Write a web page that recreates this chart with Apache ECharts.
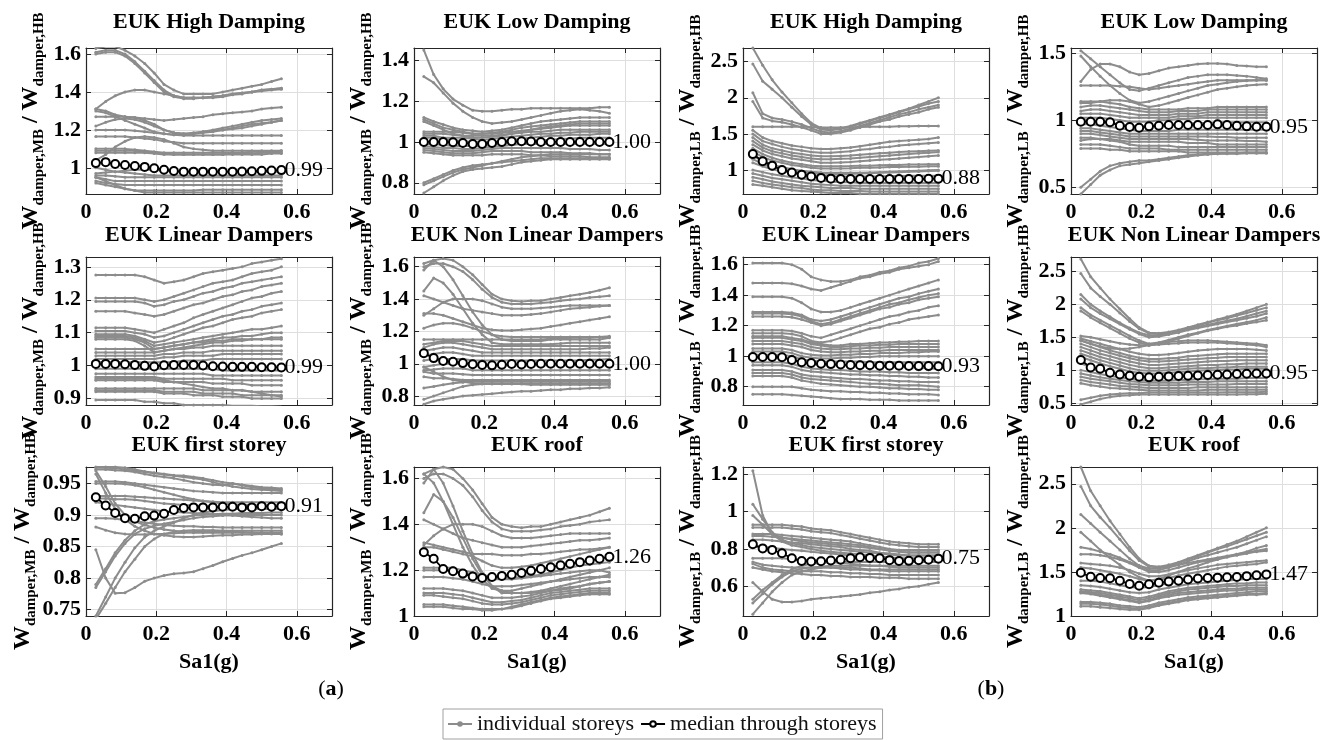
<!DOCTYPE html>
<html>
<head>
<meta charset="utf-8">
<script src="https://cdn.jsdelivr.net/npm/echarts@6/dist/echarts.min.js"></script>
<style>
html,body{margin:0;padding:0;background:#fff;}
#chart{width:1323px;height:740px;}
</style>
</head>
<body>
<div id="chart"></div>
<script>
// Spectral acceleration Sa1 (g) at which every storey ratio is evaluated
const sa = [0.028,0.056,0.083,0.111,0.139,0.167,0.194,0.222,0.25,0.278,0.306,0.333,0.361,0.389,0.417,0.444,0.472,0.5,0.528,0.556];

const titles = ['EUK High Damping','EUK Low Damping','EUK High Damping','EUK Low Damping',
  'EUK Linear Dampers','EUK Non Linear Dampers','EUK Linear Dampers','EUK Non Linear Dampers',
  'EUK first storey','EUK roof','EUK first storey','EUK roof'];

const xTicks = [0,0.2,0.4,0.6];
const ticksHighMB = [1,1.2,1.4,1.6];
const ticksLowMB = [0.8,1,1.2,1.4];
const ticksHighLB = [1,1.5,2,2.5];
const ticksLowLB = [0.5,1,1.5];
const ticksLinMB = [0.9,1,1.1,1.2,1.3];
const ticksNonLinMB = [0.8,1,1.2,1.4,1.6];
const ticksLinLB = [0.8,1,1.2,1.4,1.6];
const ticksNonLinLB = [0.5,1,1.5,2,2.5];
const ticksFirstMB = [0.75,0.8,0.85,0.9,0.95];
const ticksRoofMB = [1,1.2,1.4,1.6];
const ticksFirstLB = [0.6,0.8,1,1.2];
const ticksRoofLB = [1,1.5,2,2.5];

// ---------- High damping, MB / HB ----------
const medHighMB = [1.025,1.03,1.02,1.015,1.01,1.005,0.998,0.99,0.983,0.98,0.98,0.98,0.98,0.98,0.98,0.981,0.982,0.984,0.986,0.988];
const storeysHighMB = [
[1.63,1.64,1.64,1.62,1.59,1.55,1.50,1.44,1.41,1.39,1.39,1.39,1.39,1.40,1.41,1.42,1.43,1.44,1.455,1.47],
[1.61,1.62,1.62,1.60,1.56,1.51,1.46,1.41,1.38,1.37,1.37,1.37,1.375,1.38,1.39,1.395,1.40,1.41,1.415,1.42],
[1.60,1.61,1.61,1.59,1.55,1.50,1.45,1.40,1.375,1.365,1.365,1.37,1.37,1.375,1.385,1.39,1.40,1.405,1.41,1.415],
[1.31,1.35,1.38,1.40,1.41,1.41,1.40,1.39,1.38,1.37,1.37,1.37,1.375,1.38,1.39,1.395,1.40,1.41,1.415,1.42],
[1.31,1.30,1.28,1.27,1.265,1.26,1.255,1.25,1.255,1.26,1.265,1.27,1.28,1.285,1.29,1.295,1.30,1.31,1.315,1.32],
[1.27,1.27,1.27,1.27,1.265,1.25,1.23,1.20,1.185,1.18,1.185,1.19,1.20,1.21,1.22,1.23,1.24,1.25,1.255,1.26],
[1.30,1.29,1.27,1.25,1.23,1.21,1.19,1.18,1.175,1.175,1.18,1.19,1.195,1.20,1.21,1.22,1.23,1.235,1.24,1.25],
[1.22,1.24,1.255,1.26,1.255,1.24,1.22,1.20,1.185,1.18,1.18,1.185,1.19,1.20,1.205,1.21,1.22,1.23,1.24,1.25],
[1.20,1.20,1.20,1.20,1.195,1.19,1.185,1.18,1.175,1.17,1.17,1.17,1.17,1.17,1.17,1.17,1.17,1.17,1.17,1.17],
[1.165,1.165,1.165,1.165,1.16,1.155,1.15,1.14,1.135,1.13,1.13,1.13,1.13,1.13,1.13,1.13,1.13,1.13,1.13,1.13],
[1.04,1.07,1.11,1.14,1.16,1.165,1.16,1.15,1.13,1.11,1.10,1.095,1.09,1.09,1.09,1.09,1.09,1.09,1.09,1.09],
[1.10,1.10,1.10,1.10,1.095,1.09,1.085,1.08,1.08,1.08,1.08,1.08,1.08,1.08,1.08,1.08,1.085,1.085,1.085,1.09],
[1.09,1.09,1.09,1.09,1.09,1.085,1.08,1.075,1.07,1.07,1.07,1.07,1.07,1.07,1.075,1.075,1.075,1.08,1.08,1.08],
[1.08,1.08,1.08,1.08,1.08,1.08,1.075,1.07,1.07,1.07,1.07,1.07,1.07,1.07,1.07,1.07,1.07,1.07,1.075,1.075],
[0.97,0.975,0.98,0.985,0.99,0.99,0.99,0.985,0.98,0.98,0.98,0.98,0.98,0.98,0.98,0.98,0.98,0.98,0.98,0.98],
[0.96,0.96,0.955,0.95,0.95,0.95,0.95,0.95,0.95,0.95,0.95,0.95,0.95,0.95,0.95,0.95,0.95,0.95,0.95,0.95],
[0.95,0.94,0.93,0.93,0.93,0.93,0.93,0.93,0.93,0.93,0.93,0.93,0.93,0.93,0.93,0.93,0.93,0.93,0.93,0.93],
[0.93,0.92,0.915,0.91,0.91,0.91,0.91,0.91,0.91,0.91,0.91,0.91,0.91,0.91,0.91,0.91,0.91,0.91,0.91,0.91],
[0.92,0.91,0.90,0.89,0.88,0.88,0.88,0.88,0.88,0.88,0.88,0.885,0.885,0.885,0.885,0.885,0.885,0.885,0.885,0.885],
[0.95,0.93,0.91,0.89,0.88,0.87,0.87,0.87,0.87,0.87,0.87,0.87,0.87,0.87,0.87,0.87,0.87,0.87,0.87,0.87],
[1.0,0.99,0.98,0.975,0.97,0.965,0.96,0.96,0.96,0.96,0.96,0.96,0.96,0.96,0.96,0.96,0.96,0.96,0.96,0.96]
];

// ---------- Low damping, MB / HB ----------
const medLowMB = [1.0,1.0,1.0,0.998,0.995,0.99,0.99,0.995,1.0,1.003,1.003,1.002,1.0,1.0,1.0,1.0,1.0,1.0,1.0,1.0];
const storeysLowMB = [
[1.45,1.33,1.26,1.21,1.18,1.155,1.15,1.15,1.155,1.16,1.16,1.165,1.165,1.165,1.165,1.165,1.165,1.165,1.17,1.17],
[1.32,1.29,1.24,1.19,1.15,1.12,1.10,1.09,1.095,1.10,1.11,1.12,1.13,1.14,1.15,1.155,1.16,1.155,1.15,1.14],
[1.12,1.10,1.085,1.07,1.06,1.055,1.05,1.055,1.06,1.07,1.08,1.09,1.10,1.105,1.11,1.115,1.12,1.12,1.12,1.12],
[1.11,1.09,1.07,1.06,1.05,1.04,1.04,1.045,1.05,1.06,1.07,1.075,1.08,1.085,1.09,1.095,1.10,1.10,1.10,1.10],
[1.05,1.05,1.05,1.05,1.045,1.04,1.04,1.04,1.045,1.05,1.055,1.06,1.065,1.07,1.075,1.08,1.08,1.08,1.08,1.08],
[1.04,1.04,1.04,1.035,1.03,1.03,1.03,1.03,1.035,1.04,1.045,1.05,1.05,1.055,1.06,1.06,1.06,1.06,1.06,1.06],
[1.03,1.03,1.02,1.02,1.02,1.015,1.01,1.015,1.02,1.025,1.03,1.035,1.04,1.04,1.045,1.045,1.05,1.05,1.05,1.05],
[1.02,1.02,1.015,1.01,1.005,1.0,1.0,1.0,1.005,1.01,1.015,1.02,1.025,1.03,1.03,1.035,1.035,1.035,1.04,1.04],
[0.99,0.99,0.985,0.98,0.98,0.98,0.98,0.985,0.99,0.995,1.0,1.005,1.01,1.01,1.015,1.015,1.02,1.02,1.02,1.02],
[0.98,0.975,0.97,0.97,0.965,0.965,0.97,0.975,0.98,0.985,0.99,0.99,0.99,0.99,0.99,0.99,0.99,0.99,0.99,0.99],
[0.97,0.965,0.96,0.955,0.955,0.955,0.96,0.965,0.97,0.97,0.97,0.97,0.97,0.97,0.97,0.965,0.965,0.965,0.96,0.96],
[0.96,0.955,0.95,0.945,0.945,0.945,0.95,0.955,0.955,0.955,0.955,0.95,0.95,0.95,0.95,0.945,0.945,0.945,0.94,0.94],
[0.95,0.945,0.94,0.935,0.935,0.935,0.935,0.94,0.94,0.94,0.94,0.935,0.935,0.93,0.93,0.93,0.93,0.925,0.925,0.925],
[0.80,0.82,0.84,0.86,0.875,0.885,0.89,0.895,0.90,0.905,0.91,0.915,0.92,0.92,0.92,0.92,0.92,0.92,0.92,0.92],
[0.75,0.78,0.81,0.835,0.855,0.865,0.87,0.875,0.88,0.89,0.90,0.905,0.91,0.915,0.915,0.915,0.915,0.915,0.915,0.915],
[0.79,0.81,0.83,0.85,0.865,0.875,0.885,0.895,0.905,0.915,0.925,0.93,0.935,0.94,0.94,0.94,0.94,0.94,0.94,0.94],
[1.10,1.08,1.06,1.04,1.03,1.02,1.02,1.025,1.03,1.04,1.05,1.06,1.07,1.075,1.08,1.085,1.09,1.09,1.09,1.09]
];

// ---------- High damping, LB / HB ----------
const medHighLB = [1.22,1.12,1.06,1.0,0.965,0.935,0.91,0.89,0.88,0.875,0.875,0.875,0.875,0.875,0.875,0.875,0.875,0.875,0.878,0.88];
const storeysHighLB = [
[2.69,2.45,2.25,2.08,1.93,1.78,1.65,1.58,1.56,1.58,1.61,1.65,1.69,1.73,1.77,1.81,1.85,1.90,1.95,2.0],
[2.47,2.23,2.12,2.0,1.87,1.74,1.63,1.56,1.55,1.57,1.60,1.64,1.68,1.72,1.76,1.80,1.84,1.88,1.92,1.95],
[2.07,1.78,1.72,1.70,1.67,1.63,1.58,1.53,1.52,1.54,1.57,1.61,1.65,1.69,1.73,1.77,1.80,1.84,1.87,1.90],
[1.95,1.72,1.68,1.66,1.63,1.59,1.55,1.50,1.50,1.52,1.55,1.59,1.63,1.67,1.70,1.74,1.77,1.80,1.84,1.87],
[1.60,1.60,1.60,1.60,1.60,1.60,1.595,1.59,1.59,1.59,1.59,1.595,1.60,1.60,1.60,1.605,1.605,1.61,1.61,1.61],
[1.55,1.45,1.40,1.37,1.34,1.32,1.30,1.29,1.29,1.30,1.31,1.33,1.35,1.37,1.39,1.40,1.41,1.42,1.43,1.45],
[1.50,1.40,1.36,1.32,1.29,1.27,1.25,1.24,1.24,1.25,1.26,1.28,1.29,1.31,1.32,1.34,1.35,1.36,1.37,1.38],
[1.45,1.35,1.30,1.27,1.24,1.22,1.20,1.19,1.19,1.195,1.20,1.21,1.22,1.23,1.24,1.25,1.255,1.26,1.265,1.27],
[1.40,1.31,1.26,1.23,1.20,1.18,1.16,1.15,1.15,1.155,1.16,1.17,1.18,1.19,1.20,1.21,1.22,1.23,1.24,1.25],
[1.35,1.27,1.22,1.19,1.16,1.14,1.12,1.10,1.10,1.105,1.11,1.12,1.13,1.14,1.15,1.16,1.17,1.18,1.19,1.20],
[1.30,1.22,1.17,1.13,1.10,1.08,1.06,1.05,1.05,1.05,1.055,1.06,1.06,1.065,1.07,1.07,1.075,1.075,1.08,1.08],
[1.25,1.18,1.13,1.10,1.07,1.05,1.03,1.02,1.02,1.02,1.025,1.03,1.03,1.035,1.04,1.04,1.045,1.045,1.05,1.05],
[1.20,1.12,1.07,1.04,1.01,0.99,0.975,0.965,0.96,0.96,0.96,0.96,0.965,0.97,0.975,0.98,0.985,0.99,0.995,1.0],
[1.15,1.08,1.04,1.01,0.99,0.97,0.96,0.95,0.945,0.945,0.945,0.95,0.955,0.96,0.965,0.97,0.975,0.98,0.985,0.99],
[1.10,1.05,1.01,0.98,0.96,0.94,0.93,0.92,0.915,0.91,0.91,0.91,0.91,0.91,0.915,0.915,0.92,0.92,0.92,0.92],
[1.0,0.97,0.94,0.92,0.90,0.88,0.86,0.85,0.84,0.83,0.83,0.82,0.82,0.82,0.82,0.82,0.82,0.82,0.82,0.82],
[0.95,0.92,0.89,0.87,0.85,0.83,0.81,0.80,0.79,0.78,0.78,0.78,0.78,0.78,0.78,0.78,0.78,0.78,0.78,0.78],
[0.90,0.87,0.84,0.82,0.80,0.78,0.77,0.76,0.75,0.75,0.75,0.74,0.74,0.74,0.74,0.74,0.74,0.74,0.74,0.74],
[0.85,0.82,0.80,0.78,0.76,0.75,0.73,0.72,0.72,0.71,0.71,0.71,0.70,0.70,0.70,0.70,0.70,0.70,0.70,0.70],
[0.80,0.78,0.76,0.74,0.72,0.71,0.70,0.69,0.68,0.68,0.68,0.67,0.67,0.67,0.67,0.67,0.67,0.67,0.67,0.67]
];

// ---------- Low damping, LB / HB ----------
const medLowLB = [0.99,0.99,0.99,0.985,0.96,0.95,0.945,0.955,0.96,0.965,0.965,0.965,0.965,0.965,0.97,0.965,0.96,0.955,0.952,0.952];
const storeysLowLB = [
[1.52,1.46,1.40,1.34,1.28,1.23,1.22,1.24,1.26,1.28,1.30,1.32,1.33,1.34,1.34,1.34,1.335,1.33,1.32,1.31],
[1.29,1.38,1.42,1.42,1.40,1.36,1.34,1.35,1.37,1.39,1.40,1.41,1.42,1.425,1.425,1.42,1.41,1.405,1.40,1.40],
[1.48,1.40,1.33,1.26,1.20,1.15,1.13,1.14,1.16,1.18,1.20,1.22,1.24,1.26,1.27,1.28,1.29,1.295,1.30,1.30],
[1.26,1.26,1.26,1.26,1.255,1.25,1.24,1.23,1.24,1.25,1.26,1.27,1.28,1.29,1.30,1.30,1.30,1.30,1.30,1.30],
[1.13,1.13,1.14,1.15,1.15,1.14,1.12,1.10,1.11,1.13,1.15,1.17,1.19,1.21,1.23,1.24,1.25,1.26,1.265,1.27],
[1.14,1.14,1.14,1.13,1.12,1.10,1.09,1.08,1.08,1.08,1.08,1.09,1.09,1.09,1.10,1.10,1.10,1.10,1.10,1.10],
[1.10,1.11,1.11,1.10,1.09,1.08,1.07,1.06,1.06,1.06,1.07,1.07,1.07,1.08,1.08,1.08,1.08,1.08,1.08,1.08],
[1.07,1.08,1.08,1.07,1.06,1.05,1.04,1.04,1.04,1.04,1.05,1.05,1.05,1.06,1.06,1.06,1.06,1.06,1.06,1.06],
[1.05,1.05,1.05,1.04,1.03,1.02,1.02,1.02,1.02,1.02,1.03,1.03,1.03,1.04,1.04,1.04,1.04,1.04,1.04,1.04],
[1.02,1.02,1.02,1.01,1.0,0.99,0.99,0.99,1.0,1.0,1.01,1.01,1.02,1.02,1.02,1.02,1.02,1.02,1.02,1.02],
[0.97,0.97,0.96,0.95,0.94,0.93,0.92,0.92,0.92,0.92,0.93,0.93,0.93,0.93,0.93,0.93,0.93,0.93,0.93,0.93],
[0.94,0.94,0.93,0.92,0.91,0.90,0.90,0.90,0.90,0.90,0.90,0.90,0.90,0.90,0.90,0.90,0.90,0.90,0.90,0.90],
[0.92,0.92,0.91,0.90,0.89,0.88,0.88,0.88,0.88,0.88,0.88,0.88,0.88,0.88,0.875,0.875,0.87,0.87,0.87,0.87],
[0.90,0.90,0.89,0.88,0.87,0.86,0.86,0.86,0.86,0.86,0.86,0.86,0.855,0.85,0.85,0.85,0.85,0.845,0.845,0.84],
[0.87,0.87,0.86,0.86,0.85,0.84,0.84,0.84,0.84,0.84,0.84,0.83,0.83,0.83,0.82,0.82,0.82,0.82,0.82,0.82],
[0.85,0.86,0.86,0.85,0.84,0.82,0.81,0.81,0.81,0.81,0.80,0.80,0.80,0.80,0.80,0.80,0.80,0.80,0.80,0.80],
[0.82,0.82,0.82,0.81,0.80,0.79,0.79,0.79,0.79,0.78,0.78,0.78,0.78,0.78,0.78,0.78,0.78,0.78,0.78,0.78],
[0.79,0.79,0.79,0.78,0.78,0.77,0.77,0.77,0.77,0.77,0.77,0.76,0.76,0.76,0.76,0.76,0.76,0.76,0.76,0.76],
[0.50,0.56,0.62,0.66,0.68,0.69,0.70,0.70,0.71,0.72,0.73,0.74,0.745,0.75,0.75,0.755,0.755,0.76,0.76,0.76],
[0.45,0.52,0.59,0.63,0.66,0.67,0.68,0.69,0.70,0.71,0.72,0.73,0.74,0.745,0.75,0.75,0.75,0.755,0.755,0.755],
[1.0,1.0,0.99,0.98,0.97,0.96,0.955,0.955,0.96,0.965,0.97,0.975,0.98,0.98,0.985,0.985,0.985,0.985,0.985,0.985]
];

// ---------- Linear dampers, MB / HB ----------
const medLinMB = [1.005,1.005,1.005,1.004,1.002,0.999,0.997,1.001,1.002,1.002,1.002,1.0,0.998,0.997,0.996,0.996,0.996,0.995,0.995,0.994];
const storeysLinMB = [
[1.275,1.275,1.275,1.275,1.275,1.27,1.26,1.25,1.255,1.26,1.27,1.28,1.285,1.29,1.295,1.30,1.31,1.315,1.32,1.325],
[1.205,1.205,1.205,1.205,1.205,1.20,1.195,1.20,1.21,1.22,1.23,1.24,1.25,1.255,1.26,1.27,1.28,1.285,1.29,1.30],
[1.195,1.195,1.195,1.195,1.195,1.19,1.18,1.185,1.195,1.20,1.21,1.22,1.225,1.235,1.24,1.25,1.255,1.26,1.265,1.27],
[1.165,1.165,1.165,1.165,1.16,1.155,1.15,1.155,1.165,1.175,1.185,1.19,1.20,1.21,1.215,1.225,1.23,1.24,1.245,1.25],
[1.115,1.115,1.115,1.115,1.11,1.105,1.10,1.11,1.12,1.13,1.145,1.155,1.165,1.175,1.185,1.195,1.205,1.21,1.22,1.225],
[1.105,1.105,1.105,1.105,1.10,1.095,1.085,1.09,1.10,1.11,1.12,1.13,1.14,1.15,1.155,1.165,1.17,1.18,1.185,1.19],
[1.095,1.095,1.095,1.095,1.09,1.08,1.07,1.075,1.085,1.095,1.105,1.115,1.12,1.13,1.14,1.145,1.15,1.16,1.165,1.17],
[1.09,1.09,1.09,1.09,1.085,1.075,1.06,1.065,1.07,1.075,1.08,1.085,1.09,1.095,1.10,1.105,1.11,1.11,1.115,1.12],
[1.085,1.085,1.085,1.085,1.08,1.07,1.05,1.055,1.06,1.065,1.07,1.075,1.08,1.085,1.085,1.09,1.09,1.095,1.10,1.10],
[1.08,1.08,1.08,1.08,1.075,1.06,1.04,1.045,1.05,1.055,1.06,1.065,1.07,1.07,1.075,1.075,1.08,1.08,1.085,1.085],
[1.05,1.05,1.05,1.05,1.05,1.05,1.05,1.055,1.06,1.065,1.07,1.07,1.075,1.075,1.08,1.08,1.08,1.08,1.08,1.08],
[1.04,1.04,1.04,1.04,1.04,1.04,1.04,1.045,1.05,1.05,1.055,1.055,1.06,1.06,1.06,1.06,1.06,1.06,1.06,1.06],
[1.03,1.03,1.03,1.03,1.03,1.03,1.03,1.035,1.035,1.04,1.04,1.04,1.045,1.045,1.045,1.045,1.045,1.045,1.045,1.045],
[1.02,1.02,1.02,1.02,1.02,1.02,1.02,1.025,1.025,1.03,1.03,1.03,1.03,1.035,1.035,1.035,1.035,1.035,1.035,1.035],
[0.99,0.99,0.99,0.99,0.99,0.99,0.99,0.99,0.99,0.99,0.99,0.99,0.99,0.985,0.985,0.985,0.985,0.985,0.985,0.985],
[0.975,0.975,0.975,0.975,0.975,0.975,0.975,0.975,0.975,0.975,0.975,0.975,0.97,0.97,0.97,0.97,0.97,0.97,0.97,0.97],
[0.965,0.965,0.965,0.965,0.965,0.965,0.965,0.96,0.96,0.96,0.96,0.96,0.96,0.96,0.955,0.955,0.955,0.955,0.955,0.955],
[0.955,0.955,0.955,0.955,0.955,0.955,0.955,0.95,0.95,0.95,0.95,0.95,0.945,0.945,0.945,0.945,0.94,0.94,0.94,0.94],
[0.93,0.93,0.93,0.93,0.93,0.93,0.93,0.93,0.93,0.93,0.93,0.925,0.925,0.925,0.925,0.925,0.92,0.92,0.92,0.92],
[0.925,0.925,0.925,0.925,0.925,0.925,0.925,0.92,0.92,0.92,0.92,0.915,0.915,0.915,0.915,0.91,0.91,0.91,0.91,0.91],
[0.92,0.92,0.92,0.92,0.92,0.92,0.92,0.915,0.915,0.915,0.91,0.91,0.91,0.905,0.905,0.905,0.90,0.90,0.90,0.90],
[0.895,0.895,0.895,0.895,0.895,0.89,0.89,0.885,0.885,0.88,0.88,0.88,0.88,0.88,0.878,0.878,0.878,0.876,0.876,0.875],
[0.96,0.96,0.96,0.96,0.96,0.96,0.96,0.955,0.95,0.945,0.94,0.935,0.93,0.93,0.925,0.925,0.92,0.915,0.91,0.905],
[1.01,1.01,1.01,1.01,1.01,1.01,1.01,1.01,1.01,1.015,1.015,1.015,1.02,1.02,1.02,1.02,1.02,1.02,1.02,1.02]
];

// ---------- Non linear dampers, MB / HB ----------
const medNonLinMB = [1.065,1.035,1.017,1.012,1.004,0.997,0.993,0.99,0.994,0.998,0.996,0.999,1.0,1.0,1.0,1.0,1.0,1.0,1.0,1.0];
const storeysNonLinMB = [
[1.62,1.64,1.65,1.64,1.60,1.55,1.49,1.43,1.40,1.39,1.385,1.39,1.39,1.40,1.41,1.42,1.43,1.44,1.455,1.47],
[1.60,1.62,1.62,1.60,1.57,1.52,1.46,1.41,1.38,1.37,1.37,1.37,1.375,1.38,1.39,1.395,1.40,1.41,1.415,1.42],
[1.45,1.53,1.50,1.43,1.34,1.25,1.18,1.13,1.12,1.12,1.12,1.12,1.12,1.12,1.125,1.13,1.13,1.13,1.13,1.13],
[1.58,1.64,1.60,1.52,1.42,1.32,1.24,1.18,1.15,1.14,1.14,1.14,1.14,1.15,1.15,1.15,1.15,1.15,1.15,1.16],
[1.30,1.34,1.38,1.40,1.40,1.40,1.39,1.37,1.35,1.34,1.34,1.34,1.345,1.35,1.355,1.36,1.36,1.36,1.36,1.36],
[1.31,1.31,1.30,1.28,1.26,1.24,1.22,1.21,1.205,1.205,1.21,1.215,1.22,1.23,1.24,1.25,1.26,1.27,1.28,1.29],
[1.42,1.40,1.38,1.36,1.34,1.33,1.32,1.31,1.30,1.30,1.30,1.305,1.31,1.32,1.33,1.34,1.345,1.35,1.355,1.36],
[1.22,1.24,1.25,1.25,1.24,1.22,1.20,1.18,1.17,1.165,1.165,1.165,1.165,1.165,1.165,1.165,1.165,1.165,1.165,1.17],
[1.12,1.13,1.14,1.14,1.14,1.13,1.12,1.11,1.11,1.11,1.11,1.11,1.11,1.11,1.11,1.11,1.11,1.11,1.11,1.11],
[1.10,1.12,1.13,1.13,1.12,1.11,1.10,1.09,1.09,1.09,1.09,1.09,1.09,1.09,1.09,1.09,1.09,1.095,1.095,1.10],
[1.08,1.09,1.10,1.10,1.09,1.08,1.07,1.07,1.07,1.07,1.07,1.07,1.07,1.07,1.07,1.07,1.07,1.07,1.07,1.07],
[1.05,1.06,1.07,1.07,1.06,1.05,1.05,1.05,1.05,1.05,1.05,1.05,1.05,1.05,1.05,1.05,1.05,1.05,1.05,1.05],
[1.02,1.03,1.03,1.03,1.03,1.02,1.02,1.02,1.02,1.02,1.02,1.02,1.02,1.02,1.02,1.02,1.02,1.025,1.025,1.03],
[0.98,0.99,1.0,1.0,1.0,0.99,0.99,0.99,0.99,0.99,0.99,0.99,0.99,0.99,0.99,0.99,0.99,0.99,0.99,0.99],
[0.96,0.965,0.97,0.97,0.97,0.96,0.96,0.96,0.96,0.96,0.96,0.96,0.96,0.96,0.96,0.96,0.96,0.96,0.96,0.96],
[0.95,0.94,0.94,0.94,0.935,0.93,0.93,0.93,0.93,0.93,0.93,0.93,0.93,0.93,0.93,0.93,0.93,0.93,0.93,0.93],
[0.92,0.91,0.91,0.905,0.90,0.90,0.90,0.90,0.90,0.90,0.90,0.90,0.90,0.90,0.90,0.90,0.90,0.90,0.90,0.90],
[0.98,0.95,0.92,0.90,0.89,0.88,0.88,0.88,0.88,0.88,0.88,0.88,0.88,0.88,0.88,0.88,0.88,0.88,0.88,0.88],
[0.78,0.80,0.82,0.84,0.86,0.87,0.875,0.875,0.875,0.875,0.875,0.87,0.87,0.87,0.87,0.87,0.87,0.87,0.87,0.87],
[0.75,0.77,0.78,0.79,0.80,0.805,0.81,0.815,0.82,0.825,0.83,0.83,0.835,0.84,0.84,0.845,0.845,0.85,0.85,0.855],
[0.85,0.86,0.87,0.88,0.885,0.89,0.89,0.89,0.89,0.89,0.89,0.89,0.89,0.89,0.89,0.89,0.89,0.89,0.89,0.89],
[1.15,1.15,1.15,1.15,1.15,1.15,1.15,1.15,1.15,1.15,1.15,1.15,1.15,1.155,1.155,1.16,1.16,1.16,1.165,1.165]
];

// ---------- Linear dampers, LB / HB ----------
const medLinLB = [0.995,0.995,0.995,0.993,0.975,0.96,0.955,0.95,0.948,0.945,0.942,0.94,0.94,0.938,0.938,0.937,0.936,0.935,0.935,0.934];
const storeysLinLB = [
[1.61,1.61,1.61,1.61,1.60,1.57,1.52,1.50,1.49,1.49,1.50,1.52,1.53,1.55,1.56,1.58,1.59,1.61,1.62,1.64],
[1.48,1.48,1.48,1.48,1.475,1.46,1.44,1.43,1.45,1.47,1.49,1.51,1.52,1.54,1.55,1.57,1.58,1.59,1.60,1.62],
[1.39,1.39,1.39,1.39,1.38,1.35,1.31,1.29,1.29,1.30,1.32,1.34,1.36,1.38,1.40,1.42,1.44,1.46,1.48,1.50],
[1.29,1.29,1.29,1.29,1.285,1.27,1.24,1.23,1.24,1.26,1.28,1.30,1.32,1.34,1.36,1.38,1.39,1.41,1.425,1.44],
[1.28,1.28,1.28,1.28,1.275,1.26,1.23,1.21,1.22,1.24,1.26,1.28,1.30,1.32,1.34,1.35,1.37,1.385,1.40,1.41],
[1.26,1.26,1.26,1.26,1.255,1.24,1.22,1.20,1.21,1.23,1.25,1.27,1.29,1.31,1.32,1.34,1.35,1.37,1.38,1.39],
[1.17,1.17,1.17,1.17,1.165,1.15,1.13,1.12,1.14,1.16,1.18,1.20,1.22,1.24,1.26,1.27,1.29,1.30,1.32,1.33],
[1.15,1.15,1.15,1.15,1.145,1.13,1.10,1.09,1.10,1.12,1.14,1.16,1.18,1.19,1.21,1.22,1.24,1.25,1.26,1.27],
[1.13,1.13,1.13,1.13,1.12,1.11,1.09,1.08,1.07,1.07,1.08,1.08,1.085,1.09,1.09,1.095,1.095,1.10,1.10,1.10],
[1.12,1.12,1.12,1.12,1.11,1.10,1.08,1.07,1.06,1.06,1.065,1.07,1.07,1.075,1.075,1.08,1.08,1.08,1.08,1.08],
[1.10,1.10,1.10,1.10,1.09,1.08,1.06,1.05,1.045,1.045,1.05,1.05,1.055,1.055,1.06,1.06,1.06,1.06,1.06,1.06],
[1.08,1.08,1.08,1.08,1.07,1.06,1.04,1.03,1.025,1.025,1.03,1.03,1.035,1.035,1.04,1.04,1.04,1.04,1.04,1.04],
[1.05,1.05,1.05,1.05,1.04,1.02,1.01,1.005,1.005,1.01,1.01,1.015,1.015,1.02,1.02,1.02,1.025,1.025,1.03,1.03],
[1.03,1.03,1.03,1.03,1.02,1.0,0.99,0.985,0.985,0.99,0.99,0.995,0.995,1.0,1.0,1.0,1.0,1.0,1.0,1.0],
[0.99,0.99,0.99,0.99,0.98,0.96,0.95,0.94,0.94,0.94,0.94,0.935,0.935,0.93,0.93,0.93,0.925,0.925,0.92,0.92],
[0.96,0.96,0.96,0.96,0.95,0.93,0.92,0.915,0.91,0.91,0.905,0.90,0.90,0.90,0.895,0.895,0.89,0.89,0.89,0.89],
[0.94,0.94,0.94,0.94,0.93,0.91,0.90,0.895,0.89,0.885,0.88,0.88,0.875,0.875,0.87,0.87,0.865,0.865,0.86,0.86],
[0.91,0.91,0.91,0.91,0.90,0.88,0.87,0.865,0.86,0.855,0.85,0.85,0.845,0.84,0.84,0.835,0.835,0.83,0.83,0.83],
[0.89,0.89,0.89,0.89,0.88,0.86,0.85,0.845,0.84,0.835,0.83,0.825,0.82,0.82,0.815,0.81,0.81,0.81,0.805,0.80],
[0.87,0.87,0.87,0.87,0.86,0.84,0.83,0.82,0.815,0.81,0.805,0.80,0.80,0.795,0.79,0.79,0.785,0.785,0.78,0.78],
[0.80,0.80,0.80,0.80,0.80,0.79,0.78,0.775,0.77,0.77,0.765,0.765,0.76,0.76,0.755,0.755,0.75,0.75,0.75,0.745],
[0.75,0.75,0.75,0.75,0.745,0.74,0.735,0.73,0.725,0.72,0.72,0.72,0.715,0.715,0.715,0.71,0.71,0.71,0.71,0.71],
[1.01,1.01,1.01,1.01,1.0,0.98,0.97,0.965,0.965,0.965,0.965,0.965,0.96,0.96,0.96,0.96,0.96,0.96,0.96,0.96]
];

// ---------- Non linear dampers, LB / HB ----------
const medNonLinLB = [1.155,1.04,1.02,0.96,0.935,0.915,0.9,0.89,0.9,0.905,0.91,0.915,0.92,0.925,0.93,0.935,0.94,0.945,0.948,0.95];
const storeysNonLinLB = [
[2.69,2.42,2.25,2.08,1.93,1.78,1.65,1.57,1.56,1.58,1.61,1.65,1.69,1.73,1.77,1.81,1.85,1.90,1.95,2.0],
[2.47,2.25,2.12,2.0,1.87,1.74,1.63,1.56,1.55,1.57,1.60,1.64,1.68,1.72,1.76,1.79,1.83,1.87,1.91,1.95],
[2.15,2.0,1.90,1.81,1.72,1.64,1.57,1.53,1.53,1.56,1.59,1.62,1.66,1.69,1.72,1.75,1.78,1.82,1.86,1.90],
[2.08,1.95,1.86,1.78,1.70,1.62,1.55,1.50,1.51,1.54,1.57,1.61,1.64,1.67,1.70,1.73,1.76,1.79,1.82,1.86],
[1.95,1.84,1.76,1.68,1.60,1.52,1.45,1.40,1.42,1.46,1.50,1.54,1.57,1.61,1.64,1.67,1.70,1.73,1.76,1.80],
[1.90,1.80,1.72,1.64,1.56,1.48,1.42,1.38,1.40,1.44,1.48,1.52,1.56,1.60,1.63,1.66,1.68,1.71,1.73,1.76],
[1.45,1.40,1.36,1.33,1.32,1.33,1.35,1.38,1.41,1.43,1.44,1.45,1.45,1.45,1.44,1.43,1.42,1.41,1.40,1.38],
[1.52,1.50,1.47,1.44,1.41,1.39,1.38,1.38,1.39,1.40,1.41,1.42,1.42,1.42,1.42,1.41,1.40,1.39,1.38,1.35],
[1.48,1.44,1.40,1.36,1.32,1.28,1.25,1.23,1.23,1.24,1.26,1.28,1.30,1.31,1.32,1.32,1.32,1.32,1.31,1.30],
[1.45,1.40,1.35,1.30,1.26,1.22,1.19,1.17,1.17,1.18,1.19,1.21,1.22,1.23,1.24,1.25,1.25,1.25,1.25,1.25],
[1.40,1.35,1.30,1.26,1.22,1.18,1.15,1.13,1.13,1.14,1.15,1.16,1.17,1.18,1.19,1.20,1.20,1.20,1.20,1.20],
[1.35,1.30,1.25,1.21,1.17,1.13,1.10,1.08,1.08,1.09,1.10,1.11,1.12,1.13,1.14,1.14,1.15,1.15,1.15,1.15],
[1.30,1.25,1.20,1.16,1.12,1.08,1.05,1.03,1.03,1.04,1.05,1.06,1.07,1.08,1.08,1.09,1.09,1.10,1.10,1.10],
[1.25,1.20,1.15,1.11,1.07,1.03,1.00,0.99,0.99,1.0,1.01,1.02,1.03,1.03,1.04,1.04,1.05,1.05,1.05,1.05],
[1.10,1.05,1.01,0.98,0.95,0.92,0.90,0.89,0.89,0.90,0.91,0.92,0.92,0.93,0.93,0.94,0.94,0.95,0.95,0.95],
[1.0,0.97,0.94,0.91,0.89,0.87,0.85,0.84,0.84,0.84,0.85,0.85,0.86,0.86,0.87,0.87,0.87,0.88,0.88,0.88],
[0.95,0.92,0.89,0.87,0.85,0.83,0.82,0.81,0.81,0.81,0.81,0.82,0.82,0.82,0.83,0.83,0.83,0.83,0.83,0.83],
[0.90,0.87,0.85,0.83,0.81,0.79,0.78,0.77,0.77,0.77,0.77,0.78,0.78,0.78,0.78,0.78,0.79,0.79,0.79,0.79],
[0.85,0.82,0.80,0.78,0.76,0.75,0.74,0.73,0.73,0.73,0.73,0.73,0.74,0.74,0.74,0.74,0.74,0.74,0.74,0.74],
[0.80,0.77,0.75,0.73,0.72,0.71,0.70,0.69,0.69,0.69,0.69,0.69,0.69,0.70,0.70,0.70,0.70,0.70,0.70,0.70],
[0.55,0.58,0.61,0.63,0.64,0.65,0.65,0.66,0.66,0.66,0.66,0.66,0.66,0.66,0.66,0.665,0.665,0.665,0.665,0.67],
[0.48,0.52,0.56,0.59,0.61,0.62,0.63,0.63,0.63,0.63,0.63,0.63,0.63,0.63,0.63,0.63,0.63,0.635,0.635,0.64],
[1.20,1.15,1.10,1.06,1.02,0.98,0.96,0.95,0.95,0.96,0.97,0.98,0.99,1.0,1.0,1.01,1.01,1.02,1.02,1.02]
];

// ---------- First storey, MB / HB ----------
const medFirstMB = [0.928,0.915,0.903,0.895,0.894,0.898,0.899,0.902,0.908,0.911,0.912,0.912,0.912,0.913,0.913,0.912,0.912,0.914,0.913,0.914];
const storeysFirstMB = [
[0.976,0.976,0.976,0.975,0.972,0.969,0.967,0.965,0.963,0.962,0.96,0.958,0.955,0.952,0.95,0.948,0.946,0.944,0.943,0.942],
[0.972,0.972,0.971,0.97,0.968,0.965,0.962,0.96,0.958,0.955,0.952,0.95,0.948,0.947,0.95,0.947,0.944,0.942,0.941,0.94],
[0.953,0.953,0.953,0.952,0.95,0.948,0.946,0.944,0.942,0.94,0.938,0.937,0.936,0.935,0.935,0.935,0.935,0.935,0.935,0.935],
[0.95,0.95,0.95,0.949,0.947,0.944,0.94,0.936,0.932,0.928,0.925,0.922,0.92,0.918,0.917,0.916,0.916,0.915,0.915,0.915],
[0.93,0.93,0.93,0.93,0.929,0.928,0.927,0.926,0.925,0.924,0.923,0.922,0.921,0.92,0.92,0.92,0.92,0.92,0.92,0.92],
[0.926,0.926,0.925,0.925,0.924,0.922,0.92,0.918,0.917,0.916,0.915,0.914,0.913,0.912,0.912,0.911,0.911,0.91,0.91,0.91],
[0.92,0.918,0.916,0.914,0.912,0.91,0.908,0.906,0.905,0.904,0.903,0.902,0.901,0.9,0.899,0.898,0.897,0.896,0.895,0.895],
[0.895,0.895,0.894,0.892,0.89,0.888,0.886,0.884,0.883,0.882,0.882,0.881,0.881,0.88,0.88,0.88,0.88,0.88,0.88,0.88],
[0.881,0.876,0.872,0.87,0.869,0.869,0.87,0.87,0.871,0.872,0.873,0.874,0.874,0.875,0.875,0.875,0.875,0.875,0.875,0.875],
[0.845,0.80,0.776,0.777,0.785,0.795,0.80,0.804,0.807,0.808,0.81,0.815,0.82,0.826,0.831,0.836,0.84,0.845,0.85,0.855],
[0.79,0.815,0.84,0.86,0.875,0.885,0.89,0.893,0.895,0.897,0.899,0.9,0.901,0.902,0.902,0.903,0.903,0.903,0.904,0.904],
[0.785,0.81,0.835,0.855,0.87,0.878,0.883,0.886,0.889,0.892,0.895,0.897,0.898,0.899,0.9,0.9,0.9,0.9,0.9,0.9],
[0.74,0.77,0.80,0.825,0.848,0.865,0.875,0.882,0.888,0.895,0.9,0.904,0.906,0.908,0.909,0.91,0.91,0.91,0.91,0.91],
[0.735,0.76,0.785,0.81,0.83,0.85,0.862,0.87,0.873,0.875,0.876,0.876,0.876,0.875,0.874,0.873,0.872,0.871,0.871,0.87],
[0.97,0.945,0.918,0.9,0.89,0.884,0.88,0.877,0.875,0.873,0.872,0.872,0.872,0.872,0.872,0.872,0.872,0.872,0.872,0.872],
[0.965,0.935,0.91,0.893,0.882,0.875,0.87,0.868,0.866,0.865,0.865,0.866,0.867,0.868,0.868,0.869,0.869,0.87,0.87,0.87],
[0.975,0.975,0.974,0.972,0.97,0.968,0.966,0.964,0.962,0.96,0.958,0.956,0.952,0.948,0.945,0.943,0.941,0.94,0.939,0.938]
];

// ---------- Roof, MB / HB ----------
const medRoofMB = [1.278,1.25,1.205,1.195,1.185,1.172,1.166,1.17,1.175,1.18,1.188,1.197,1.205,1.213,1.221,1.228,1.235,1.242,1.25,1.258];
const storeysRoofMB = [
[1.62,1.64,1.65,1.64,1.60,1.55,1.49,1.43,1.40,1.39,1.385,1.39,1.39,1.40,1.41,1.42,1.43,1.44,1.455,1.47],
[1.60,1.62,1.62,1.60,1.57,1.52,1.46,1.41,1.38,1.37,1.37,1.37,1.375,1.38,1.39,1.395,1.40,1.41,1.415,1.42],
[1.58,1.64,1.58,1.48,1.37,1.27,1.19,1.13,1.10,1.10,1.10,1.10,1.105,1.11,1.115,1.12,1.13,1.14,1.145,1.15],
[1.45,1.53,1.50,1.43,1.34,1.25,1.18,1.13,1.11,1.10,1.10,1.105,1.11,1.12,1.13,1.14,1.15,1.16,1.17,1.18],
[1.31,1.35,1.38,1.40,1.40,1.40,1.39,1.37,1.35,1.34,1.34,1.34,1.345,1.35,1.355,1.36,1.36,1.36,1.36,1.36],
[1.42,1.40,1.38,1.36,1.34,1.33,1.32,1.31,1.30,1.30,1.30,1.305,1.31,1.315,1.32,1.325,1.33,1.33,1.335,1.34],
[1.30,1.30,1.29,1.28,1.27,1.26,1.24,1.22,1.21,1.21,1.215,1.22,1.23,1.24,1.25,1.26,1.27,1.28,1.29,1.30],
[1.32,1.31,1.30,1.29,1.28,1.27,1.27,1.27,1.265,1.265,1.265,1.27,1.27,1.275,1.28,1.285,1.29,1.29,1.295,1.30],
[1.21,1.21,1.21,1.21,1.20,1.19,1.18,1.17,1.165,1.165,1.17,1.175,1.18,1.19,1.20,1.21,1.22,1.225,1.23,1.235],
[1.20,1.20,1.20,1.195,1.19,1.18,1.17,1.16,1.16,1.16,1.165,1.17,1.175,1.18,1.185,1.19,1.195,1.20,1.20,1.19],
[1.17,1.17,1.17,1.165,1.16,1.15,1.14,1.13,1.13,1.13,1.135,1.14,1.145,1.15,1.155,1.16,1.165,1.17,1.17,1.17],
[1.12,1.12,1.12,1.115,1.11,1.10,1.09,1.08,1.08,1.08,1.085,1.09,1.10,1.11,1.12,1.125,1.13,1.14,1.145,1.15],
[1.10,1.10,1.10,1.095,1.09,1.08,1.07,1.06,1.06,1.065,1.07,1.08,1.09,1.10,1.105,1.11,1.115,1.12,1.12,1.12],
[1.09,1.09,1.085,1.08,1.075,1.065,1.055,1.05,1.05,1.055,1.06,1.07,1.08,1.09,1.095,1.10,1.105,1.11,1.11,1.11],
[1.05,1.05,1.05,1.045,1.04,1.035,1.03,1.03,1.03,1.04,1.05,1.06,1.07,1.08,1.085,1.09,1.095,1.10,1.10,1.10],
[1.04,1.04,1.04,1.035,1.03,1.03,1.025,1.025,1.03,1.035,1.045,1.055,1.065,1.075,1.08,1.085,1.09,1.095,1.095,1.095],
[1.62,1.58,1.50,1.40,1.30,1.22,1.16,1.12,1.11,1.11,1.12,1.13,1.14,1.15,1.16,1.17,1.18,1.19,1.20,1.21]
];

// ---------- First storey, LB / HB ----------
const medFirstLB = [0.825,0.803,0.795,0.777,0.75,0.735,0.733,0.734,0.738,0.742,0.75,0.755,0.752,0.75,0.74,0.735,0.736,0.739,0.742,0.748];
const storeysFirstLB = [
[1.22,0.98,0.88,0.84,0.82,0.81,0.80,0.79,0.785,0.78,0.775,0.77,0.765,0.76,0.755,0.75,0.75,0.75,0.75,0.75],
[1.04,0.96,0.89,0.85,0.83,0.82,0.81,0.805,0.80,0.795,0.79,0.785,0.78,0.775,0.77,0.765,0.765,0.765,0.765,0.765],
[0.98,0.93,0.88,0.86,0.85,0.84,0.835,0.83,0.825,0.82,0.815,0.81,0.805,0.80,0.795,0.79,0.79,0.79,0.79,0.79],
[0.93,0.93,0.93,0.93,0.925,0.92,0.91,0.905,0.90,0.89,0.88,0.87,0.86,0.85,0.84,0.835,0.83,0.825,0.825,0.825],
[0.915,0.915,0.915,0.915,0.91,0.905,0.895,0.89,0.885,0.875,0.865,0.855,0.845,0.835,0.825,0.82,0.815,0.81,0.81,0.81],
[0.88,0.88,0.88,0.875,0.87,0.865,0.86,0.855,0.85,0.845,0.84,0.83,0.82,0.81,0.80,0.795,0.795,0.795,0.795,0.795],
[0.87,0.87,0.865,0.86,0.855,0.85,0.845,0.84,0.835,0.83,0.825,0.82,0.81,0.80,0.79,0.785,0.78,0.78,0.78,0.78],
[0.85,0.85,0.845,0.84,0.835,0.83,0.825,0.82,0.815,0.81,0.80,0.795,0.79,0.78,0.775,0.77,0.765,0.765,0.765,0.765],
[0.81,0.81,0.805,0.80,0.795,0.79,0.785,0.78,0.775,0.77,0.765,0.76,0.755,0.75,0.745,0.74,0.735,0.73,0.73,0.73],
[0.75,0.75,0.75,0.75,0.745,0.74,0.74,0.735,0.73,0.725,0.72,0.715,0.71,0.71,0.705,0.70,0.70,0.70,0.70,0.70],
[0.73,0.715,0.71,0.705,0.70,0.70,0.70,0.70,0.70,0.695,0.69,0.69,0.685,0.685,0.68,0.68,0.68,0.68,0.68,0.68],
[0.72,0.70,0.69,0.685,0.68,0.68,0.68,0.68,0.675,0.675,0.67,0.67,0.665,0.665,0.66,0.66,0.66,0.66,0.66,0.66],
[0.62,0.57,0.53,0.515,0.515,0.52,0.53,0.535,0.54,0.545,0.55,0.555,0.565,0.57,0.58,0.585,0.595,0.60,0.61,0.62],
[0.51,0.56,0.61,0.65,0.68,0.695,0.70,0.705,0.71,0.71,0.71,0.71,0.71,0.71,0.71,0.71,0.71,0.71,0.71,0.71],
[0.45,0.51,0.57,0.62,0.66,0.68,0.69,0.70,0.70,0.70,0.70,0.695,0.69,0.69,0.69,0.69,0.69,0.69,0.69,0.69],
[0.53,0.58,0.62,0.66,0.69,0.71,0.72,0.725,0.73,0.73,0.73,0.73,0.73,0.73,0.73,0.73,0.73,0.73,0.73,0.73],
[0.70,0.69,0.68,0.675,0.67,0.665,0.66,0.66,0.655,0.655,0.65,0.65,0.65,0.645,0.645,0.645,0.64,0.64,0.64,0.64]
];

// ---------- Roof, LB / HB ----------
const medRoofLB = [1.49,1.445,1.43,1.428,1.4,1.362,1.343,1.36,1.378,1.39,1.4,1.415,1.425,1.43,1.435,1.44,1.443,1.452,1.462,1.472];
const storeysRoofLB = [
[2.69,2.42,2.25,2.08,1.93,1.78,1.65,1.57,1.56,1.58,1.61,1.65,1.69,1.73,1.77,1.81,1.85,1.90,1.95,2.0],
[2.47,2.25,2.12,2.0,1.87,1.74,1.63,1.56,1.55,1.57,1.60,1.64,1.68,1.72,1.76,1.79,1.83,1.87,1.91,1.95],
[2.15,2.05,1.95,1.85,1.75,1.65,1.57,1.52,1.52,1.55,1.58,1.62,1.66,1.69,1.72,1.75,1.78,1.82,1.86,1.90],
[1.95,1.85,1.75,1.66,1.58,1.50,1.44,1.40,1.42,1.46,1.50,1.54,1.57,1.61,1.64,1.67,1.70,1.73,1.77,1.80],
[1.78,1.76,1.73,1.70,1.66,1.61,1.57,1.54,1.54,1.56,1.58,1.60,1.62,1.64,1.66,1.68,1.70,1.72,1.74,1.76],
[1.70,1.70,1.69,1.67,1.64,1.60,1.55,1.50,1.50,1.52,1.55,1.58,1.61,1.63,1.65,1.67,1.69,1.71,1.73,1.74],
[1.60,1.59,1.58,1.57,1.55,1.52,1.48,1.45,1.45,1.47,1.50,1.52,1.54,1.56,1.58,1.59,1.60,1.61,1.62,1.63],
[1.55,1.54,1.52,1.50,1.48,1.45,1.42,1.40,1.41,1.43,1.46,1.48,1.50,1.52,1.54,1.56,1.57,1.58,1.59,1.61],
[1.30,1.29,1.28,1.26,1.24,1.22,1.20,1.22,1.25,1.28,1.30,1.32,1.33,1.34,1.35,1.36,1.37,1.37,1.38,1.38],
[1.28,1.27,1.26,1.24,1.22,1.20,1.18,1.20,1.23,1.26,1.28,1.30,1.31,1.32,1.33,1.34,1.34,1.35,1.35,1.35],
[1.27,1.26,1.24,1.22,1.20,1.18,1.16,1.18,1.21,1.24,1.26,1.27,1.28,1.29,1.30,1.31,1.31,1.32,1.32,1.32],
[1.26,1.25,1.23,1.21,1.19,1.17,1.15,1.17,1.20,1.22,1.24,1.25,1.26,1.27,1.28,1.29,1.29,1.30,1.30,1.30],
[1.16,1.16,1.15,1.14,1.12,1.11,1.10,1.12,1.15,1.17,1.19,1.21,1.22,1.23,1.24,1.25,1.26,1.27,1.28,1.28],
[1.14,1.14,1.13,1.12,1.10,1.09,1.08,1.10,1.13,1.15,1.17,1.19,1.20,1.21,1.22,1.23,1.24,1.25,1.25,1.26],
[1.11,1.11,1.10,1.09,1.08,1.07,1.07,1.09,1.12,1.14,1.16,1.18,1.19,1.20,1.21,1.22,1.23,1.24,1.24,1.25],
[1.35,1.34,1.33,1.31,1.29,1.27,1.26,1.27,1.30,1.32,1.34,1.36,1.37,1.38,1.39,1.40,1.41,1.42,1.42,1.42],
[1.40,1.40,1.39,1.37,1.35,1.33,1.32,1.33,1.35,1.37,1.39,1.41,1.42,1.43,1.44,1.45,1.46,1.47,1.47,1.48]
];

// Panel definitions, row by row (left block: MB/HB, right block: LB/HB)
const panels = [
  {title: titles[0],  ref: 'MB', yRange: [0.862, 1.632], ticks: ticksHighMB,   median: medHighMB,   storeys: storeysHighMB},
  {title: titles[1],  ref: 'MB', yRange: [0.745, 1.46],  ticks: ticksLowMB,    median: medLowMB,    storeys: storeysLowMB},
  {title: titles[2],  ref: 'LB', yRange: [0.667, 2.69],  ticks: ticksHighLB,   median: medHighLB,   storeys: storeysHighLB},
  {title: titles[3],  ref: 'LB', yRange: [0.45, 1.54],   ticks: ticksLowLB,    median: medLowLB,    storeys: storeysLowLB},
  {title: titles[4],  ref: 'MB', yRange: [0.88, 1.33],   ticks: ticksLinMB,    median: medLinMB,    storeys: storeysLinMB},
  {title: titles[5],  ref: 'MB', yRange: [0.745, 1.66],  ticks: ticksNonLinMB, median: medNonLinMB, storeys: storeysNonLinMB},
  {title: titles[6],  ref: 'LB', yRange: [0.68, 1.65],   ticks: ticksLinLB,    median: medLinLB,    storeys: storeysLinLB},
  {title: titles[7],  ref: 'LB', yRange: [0.47, 2.72],   ticks: ticksNonLinLB, median: medNonLinLB, storeys: storeysNonLinLB},
  {title: titles[8],  ref: 'MB', yRange: [0.74, 0.976],  ticks: ticksFirstMB,  median: medFirstMB,  storeys: storeysFirstMB},
  {title: titles[9],  ref: 'MB', yRange: [1.0, 1.65],    ticks: ticksRoofMB,   median: medRoofMB,   storeys: storeysRoofMB},
  {title: titles[10], ref: 'LB', yRange: [0.44, 1.24],   ticks: ticksFirstLB,  median: medFirstLB,  storeys: storeysFirstLB},
  {title: titles[11], ref: 'LB', yRange: [1.0, 2.69],    ticks: ticksRoofLB,   median: medRoofLB,   storeys: storeysRoofLB}
];

const FONT = "'Liberation Serif','Times New Roman',serif";
const AX = '#262626';
const GRIDC = '#dedede';
const GRAY = '#8c8c8c';

const colLeft = [86, 414, 743, 1071];
const rowTop = [48, 257, 467];
const rowH = [146, 148, 149];
const titleY = [22, 235, 445];
const plotW = 246;

const grids = [], xAxes = [], yAxes = [], series = [], graphics = [];

panels.forEach((p, i) => {
  const r = Math.floor(i / 4), c = i % 4;
  const left = colLeft[c], top = rowTop[r];
  grids.push({left: left, top: top, width: plotW, height: rowH[r], containLabel: false, outerBoundsMode: 'none'});

  const axisLine = {show: true, onZero: false, lineStyle: {color: AX, width: 1.2}};
  const tickLine = {color: AX, width: 1};
  const labelFont = {color: '#000', fontSize: 22, fontWeight: 'bold', fontFamily: FONT};

  // bottom / top x axes
  xAxes.push({
    gridIndex: i, type: 'value', position: 'bottom', min: 0, max: 0.7,
    axisLine: axisLine,
    axisTick: {show: true, inside: true, length: 5, customValues: xTicks, lineStyle: tickLine},
    axisLabel: Object.assign({customValues: xTicks, margin: 7}, labelFont),
    splitLine: {show: true, lineStyle: {color: GRIDC, width: 1}},
    name: r === 2 ? 'Sa1(g)' : '', nameLocation: 'middle', nameGap: 35,
    nameTextStyle: labelFont
  });
  xAxes.push({
    gridIndex: i, type: 'value', position: 'top', min: 0, max: 0.7,
    axisLine: axisLine,
    axisTick: {show: true, inside: true, length: 5, customValues: xTicks, lineStyle: tickLine},
    axisLabel: {show: false}, splitLine: {show: false}
  });

  // left / right y axes
  yAxes.push({
    gridIndex: i, type: 'value', position: 'left', min: p.yRange[0], max: p.yRange[1],
    axisLine: axisLine,
    axisTick: {show: true, inside: true, length: 5, customValues: p.ticks, lineStyle: tickLine},
    axisLabel: Object.assign({customValues: p.ticks, margin: 5}, labelFont),
    splitLine: {show: true, lineStyle: {color: GRIDC, width: 1}},
    name: '{m|W}{s|damper,' + p.ref + '}{m| / W}{s|damper,HB}',
    nameLocation: 'middle', nameRotate: 90, nameGap: 42,
    nameTextStyle: {
      rich: {
        m: {fontSize: 24, fontWeight: 'bold', fontFamily: FONT, color: '#000', lineHeight: 25, verticalAlign: 'top'},
        s: {fontSize: 15, fontWeight: 'bold', fontFamily: FONT, color: '#000', lineHeight: 15, verticalAlign: 'top', padding: [13, 0, 0, 0]}
      }
    }
  });
  yAxes.push({
    gridIndex: i, type: 'value', position: 'right', min: p.yRange[0], max: p.yRange[1],
    axisLine: axisLine,
    axisTick: {show: true, inside: true, length: 5, customValues: p.ticks, lineStyle: tickLine},
    axisLabel: {show: false}, splitLine: {show: false}
  });

  // individual storeys
  p.storeys.forEach(line => {
    series.push({
      type: 'line', name: 'individual storeys',
      xAxisIndex: 2 * i, yAxisIndex: 2 * i,
      data: sa.map((x, k) => [x, line[k]]),
      symbol: 'circle', symbolSize: 3, showSymbol: true, showAllSymbol: true,
      lineStyle: {color: GRAY, width: 2},
      itemStyle: {color: GRAY},
      silent: true, z: 2, clip: true
    });
  });

  // median through storeys with its end value
  series.push({
    type: 'line', name: 'median through storeys',
    xAxisIndex: 2 * i, yAxisIndex: 2 * i,
    data: sa.map((x, k) => [x, p.median[k]]),
    symbol: 'circle', symbolSize: 8, showSymbol: true, showAllSymbol: true,
    lineStyle: {color: '#000', width: 1.8},
    itemStyle: {color: '#fff', borderColor: '#000', borderWidth: 2},
    endLabel: {
      show: true, distance: 3,
      formatter: prm => prm.value[1].toFixed(2),
      color: '#000', fontSize: 22, fontFamily: FONT
    },
    silent: true, z: 5, clip: true
  });

  // panel title
  graphics.push({
    type: 'text', x: left + plotW / 2, y: titleY[r],
    style: {text: p.title, fill: '#000', font: 'bold 22px ' + FONT, textAlign: 'center', textVerticalAlign: 'middle'}
  });
});

// sub-figure tags
[['a', 331], ['b', 991]].forEach(([tag, x]) => {
  graphics.push({
    type: 'text', x: x, y: 689,
    style: {
      text: '{p|(}{b|' + tag + '}{p|)}',
      textAlign: 'center', textVerticalAlign: 'middle',
      rich: {
        p: {fontSize: 22, fontFamily: FONT, fill: '#000', color: '#000'},
        b: {fontSize: 22, fontFamily: FONT, fontWeight: 'bold', fill: '#000', color: '#000'}
      }
    }
  });
});

const chart = echarts.init(document.getElementById('chart'), null, {renderer: 'canvas'});
chart.setOption({
  backgroundColor: '#fff',
  animation: false,
  grid: grids,
  xAxis: xAxes,
  yAxis: yAxes,
  series: series,
  graphic: graphics,
  legend: {
    data: ['individual storeys', 'median through storeys'],
    left: 443, top: 709,
    itemWidth: 24, itemHeight: 7, itemGap: 6,
    padding: [4, 6, 4, 4],
    borderColor: '#a0a0a0', borderWidth: 1,
    selectedMode: false,
    textStyle: {fontSize: 22, fontFamily: FONT, color: '#111'}
  }
});
</script>
</body>
</html>
